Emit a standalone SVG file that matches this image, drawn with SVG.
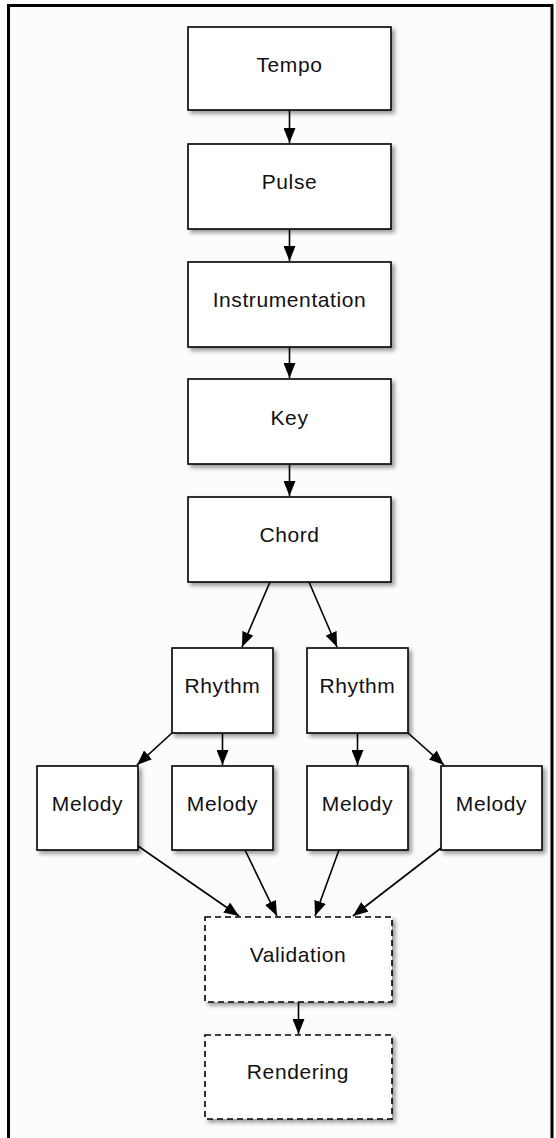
<svg xmlns="http://www.w3.org/2000/svg" width="556" height="1138" viewBox="0 0 556 1138">
<style>
.box{fill:#fff;stroke:#000;stroke-width:1.6;filter:url(#sh)}
.dash{stroke-dasharray:6,4}
.lbl{font-family:"Liberation Sans",Arial,sans-serif;font-size:21px;letter-spacing:0.6px;fill:#111;text-anchor:middle}
.edge{stroke:#000;stroke-width:1.6;fill:none;marker-end:url(#ah)}
</style>
<defs>
<filter id="sh" x="-10%" y="-10%" width="130%" height="130%">
<feDropShadow dx="3" dy="3" stdDeviation="2" flood-color="#000" flood-opacity="0.4"/>
</filter>
<marker id="ah" markerUnits="userSpaceOnUse" markerWidth="15" markerHeight="12" refX="15" refY="6" orient="auto">
<path d="M0,0 L15,6 L0,12 z" fill="#000"/>
</marker>
</defs>
<rect x="0" y="0" width="556" height="1138" fill="#fff"/>
<rect x="8.5" y="5.5" width="543.5" height="1145" fill="#fcfcfc" stroke="#000" stroke-width="3"/>

<g id="connectors">
<line class="edge" x1="289.5" y1="110" x2="289.5" y2="143"/>
<line class="edge" x1="289.5" y1="229" x2="289.5" y2="261"/>
<line class="edge" x1="289.5" y1="347" x2="289.5" y2="378"/>
<line class="edge" x1="289.5" y1="464" x2="289.5" y2="496"/>
<line class="edge" x1="270" y1="582" x2="242" y2="647"/>
<line class="edge" x1="309" y1="582" x2="337" y2="647"/>
<line class="edge" x1="172" y1="733" x2="137" y2="765"/>
<line class="edge" x1="222.5" y1="733" x2="222.5" y2="765"/>
<line class="edge" x1="357.5" y1="733" x2="357.5" y2="765"/>
<line class="edge" x1="408" y1="733" x2="444" y2="765"/>
<line class="edge" x1="138" y1="846" x2="239" y2="916"/>
<line class="edge" x1="245" y1="850" x2="277" y2="916"/>
<line class="edge" x1="339" y1="850" x2="315" y2="916"/>
<line class="edge" x1="441" y1="848" x2="353" y2="916"/>
<line class="edge" x1="298.5" y1="1002" x2="298.5" y2="1034"/>
</g>

<g id="tempo"><rect class="box" x="188" y="27" width="203" height="83"/><text class="lbl" x="289.5" y="72">Tempo</text></g>
<g id="pulse"><rect class="box" x="188" y="144" width="203" height="85"/><text class="lbl" x="289.5" y="189">Pulse</text></g>
<g id="instrumentation"><rect class="box" x="188" y="262" width="203" height="85"/><text class="lbl" x="289.5" y="307">Instrumentation</text></g>
<g id="key"><rect class="box" x="188" y="379" width="203" height="85"/><text class="lbl" x="289.5" y="425">Key</text></g>
<g id="chord"><rect class="box" x="188" y="497" width="203" height="85"/><text class="lbl" x="289.5" y="542">Chord</text></g>

<g id="rhythm1"><rect class="box" x="172" y="648" width="101" height="85"/><text class="lbl" x="222.5" y="693">Rhythm</text></g>
<g id="rhythm2"><rect class="box" x="307" y="648" width="101" height="85"/><text class="lbl" x="357.5" y="693">Rhythm</text></g>

<g id="melody1"><rect class="box" x="37" y="766" width="101" height="84"/><text class="lbl" x="87.5" y="811">Melody</text></g>
<g id="melody2"><rect class="box" x="172" y="766" width="101" height="84"/><text class="lbl" x="222.5" y="811">Melody</text></g>
<g id="melody3"><rect class="box" x="307" y="766" width="101" height="84"/><text class="lbl" x="357.5" y="811">Melody</text></g>
<g id="melody4"><rect class="box" x="441" y="766" width="101" height="84"/><text class="lbl" x="491.5" y="811">Melody</text></g>

<g id="validation"><rect class="box dash" x="205" y="917" width="187" height="85"/><text class="lbl" x="298" y="962">Validation</text></g>
<g id="rendering"><rect class="box dash" x="205" y="1035" width="187" height="84"/><text class="lbl" x="298" y="1079">Rendering</text></g>
</svg>
